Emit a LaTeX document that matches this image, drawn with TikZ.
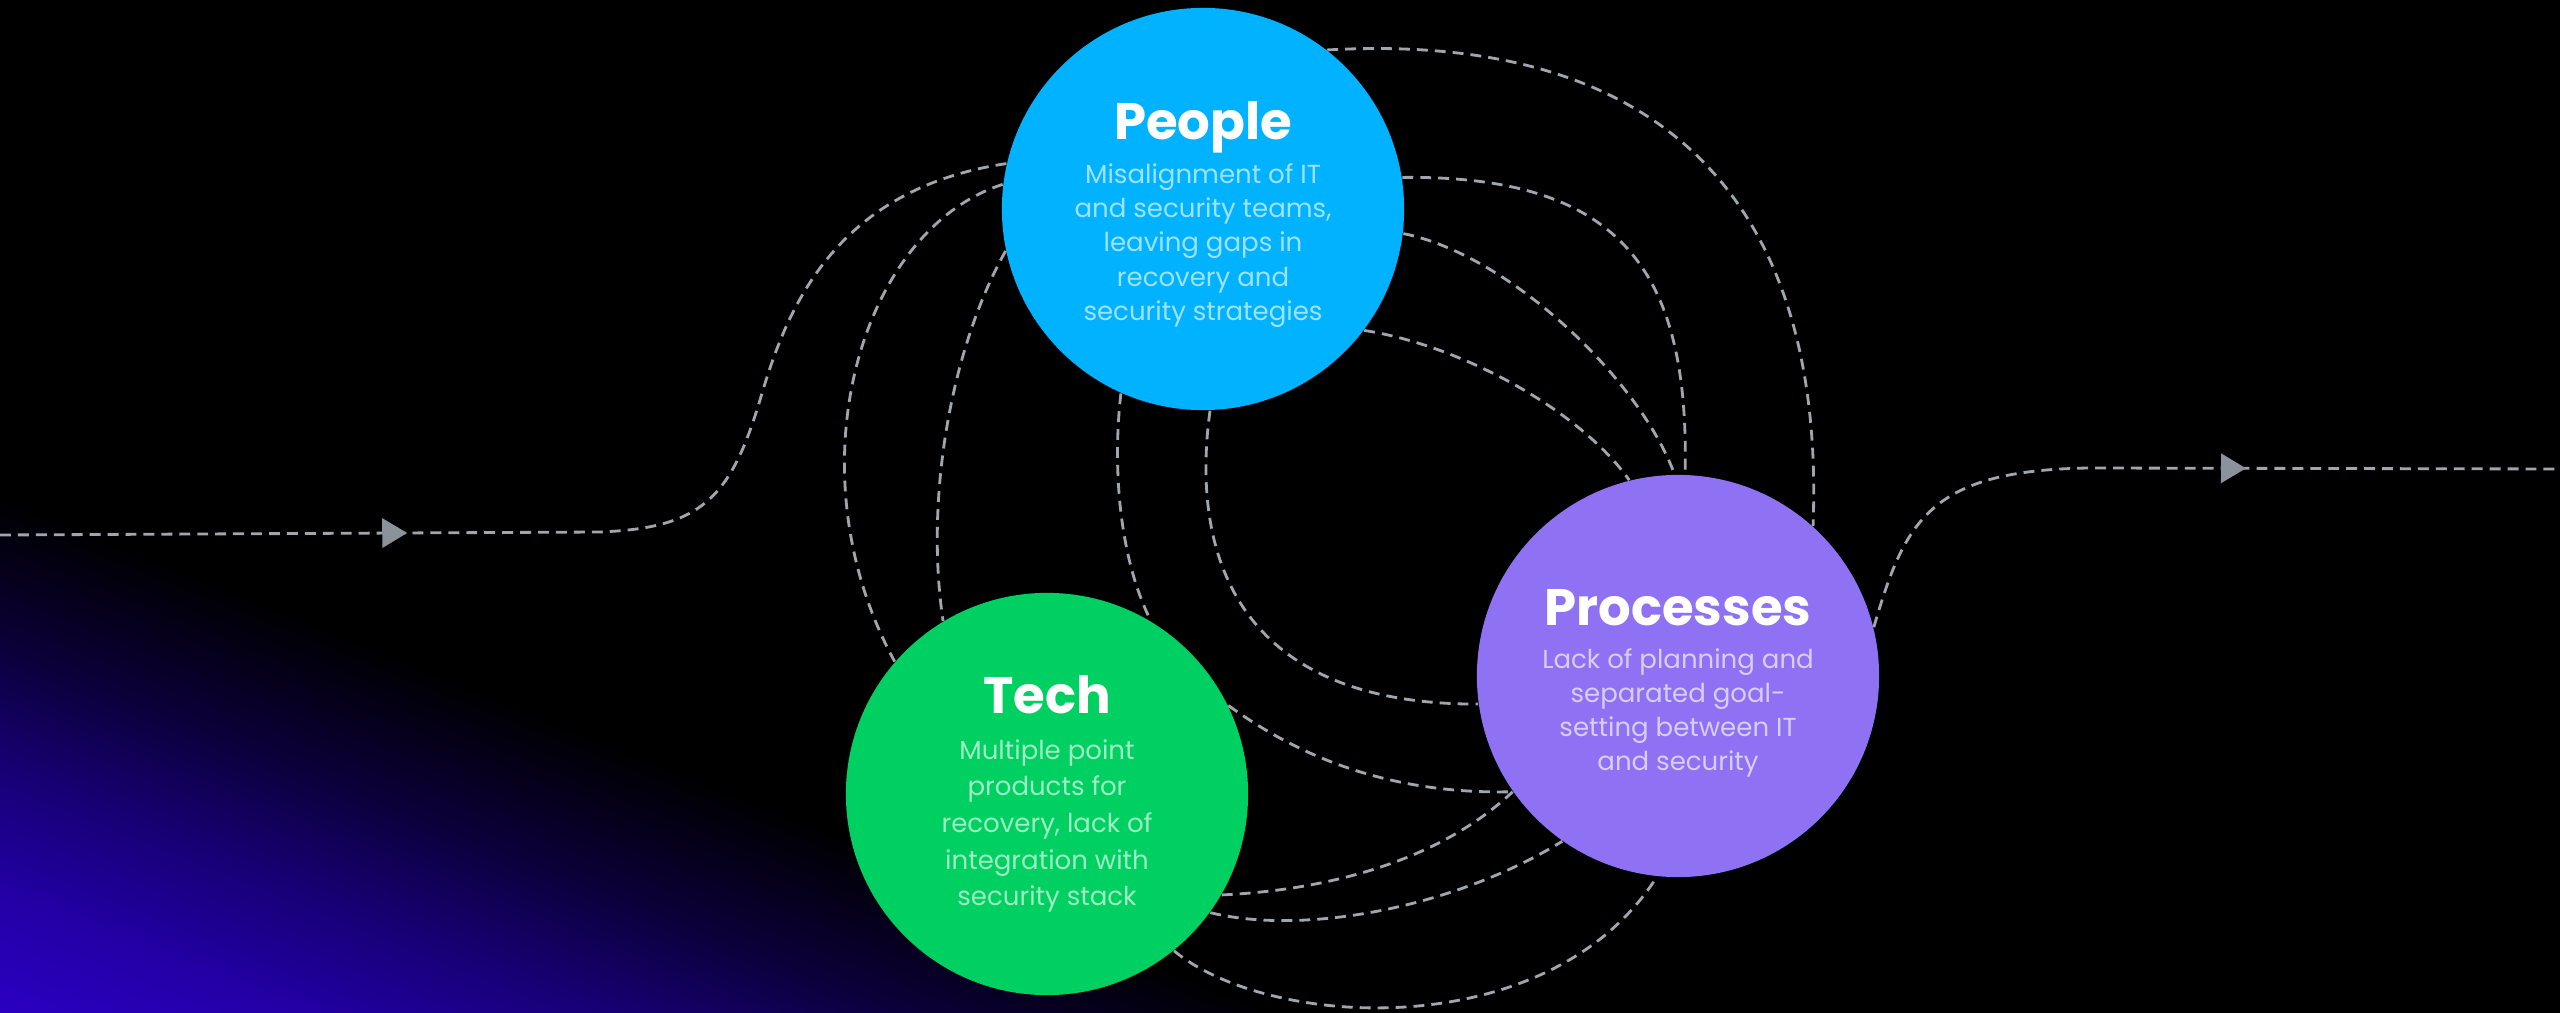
\documentclass[tikz,border=0pt]{standalone}
\usepackage{fontspec}
\setmainfont{Poppins}
\usetikzlibrary{arrows.meta,decorations.markings}

\definecolor{peoplecol}{HTML}{00B2FF}
\definecolor{techcol}{HTML}{00D062}
\definecolor{processcol}{HTML}{8F71F3}
\definecolor{flowgray}{HTML}{A0A6AE}
\definecolor{tipgray}{HTML}{8C929B}
\definecolor{glowA}{HTML}{2B00C2}
\definecolor{glowB}{HTML}{2200A4}
\definecolor{glowC}{HTML}{170074}
\definecolor{glowD}{HTML}{0B0038}

% the shaded box maps onto 25bp..75bp of the shading
\pgfdeclareverticalshading{glowfade}{100bp}{color(0bp)=(glowA); color(50bp)=(glowA); color(56bp)=(glowB); color(62bp)=(glowC); color(68bp)=(glowD); color(75bp)=(black); color(100bp)=(black)}
\newcommand{\hubtitle}[1]{{\color{white}\fontsize{14.6}{15}\selectfont\bfseries #1}}
\tikzset{midarrow/.style={postaction={decorate}, decoration={markings, mark=at position #1 with {\arrow{Triangle[length=7.1pt, width=8.3pt, color=tipgray]}}}}}

\begin{document}
\begin{tikzpicture}[x=0.01cm, y=-0.01cm]
  \tikzstyle{hub}=[circle, minimum size=4.02cm, inner sep=0pt]
  \tikzstyle{hubtext}=[inner sep=0pt, align=center]
  \tikzstyle{flow}=[draw=flowgray, line width=0.8pt, dash pattern=on 3.1pt off 2pt]

  % canvas and the glow in the lower left
  \useasboundingbox (0,0) rectangle (2560,1013);
  \fill[black] (0,0) rectangle (2560,1013);
  \begin{scope}
    \clip (0,0) rectangle (2560,1013);
    \begin{scope}[transform canvas={rotate around={-22:(0,1013)}}]
      \shade[shading=glowfade] (-1200,533) rectangle (3200,1493);
    \end{scope}
  \end{scope}

  \node[hub, fill=peoplecol] (people) at (1203,209) {};
  \node[hub, fill=techcol] (tech) at (1047,794) {};
  \node[hub, fill=processcol] (processes) at (1678,676) {};

  \node[hubtext, text=white!62!peoplecol, font=\fontsize{7.4}{9.76}\selectfont] (people-text)
    at ([yshift=-1.5pt]people.center)
    {\hubtitle{People}\\[2.8pt] Misalignment of IT\\ and security teams,\\ leaving gaps in\\ recovery and\\ security strategies};
  \node[hubtext, text=white!62!techcol, font=\fontsize{7.4}{10.4}\selectfont] (tech-text)
    at (tech.center)
    {\hubtitle{Tech}\\[2.6pt] Multiple point\\ products for\\ recovery, lack of\\ integration with\\ security stack};
  \node[hubtext, text=white!65!processcol, font=\fontsize{7.4}{9.6}\selectfont] (processes-text)
    at ([yshift=-2pt]processes.center)
    {\hubtitle{Processes}\\[2.8pt] Lack of planning and\\ separated goal-\\ setting between IT\\ and security};

  \coordinate (in) at (0,535);
  \coordinate (out) at (2560,469);

  % way in and way out
  \draw[flow, midarrow=115.8pt] (in) -- (600,532) .. controls (700,528) and (730,500) .. (760,400)
    .. controls (785,315) and (830,190) .. (people.167);
  \draw[flow, midarrow=-89.3pt] (processes.14) .. controls (1905,520) and (1930,470) .. (2090,468) -- (out);

  % people -> tech
  \foreach \s/\ax/\ay/\bx/\by/\t in {173/860/230/790/470/139, 192/950/350/925/500/121, 246/1112/470/1120/560/59}
    \draw[flow] (people.\s) .. controls (\ax,\ay) and (\bx,\by) .. (tech.\t);

  % people -> processes
  \foreach \s/\ax/\ay/\bx/\by/\t in {272/1192/540/1225/705/188, 52/1680/30/1825/220/48, 9/1620/175/1690/270/88,
      -7/1510/255/1640/380/91, -37/1460/345/1580/410/104}
    \draw[flow] (people.\s) .. controls (\ax,\ay) and (\bx,\by) .. (processes.\t);

  % tech -> processes
  \foreach \s/\ax/\ay/\bx/\by/\t in {26/1290/750/1380/795/215, -30/1330/890/1440/860/215,
      -36/1300/935/1450/910/235, -51/1270/1030/1550/1045/264}
    \draw[flow] (tech.\s) .. controls (\ax,\ay) and (\bx,\by) .. (processes.\t);
\end{tikzpicture}
\end{document}
